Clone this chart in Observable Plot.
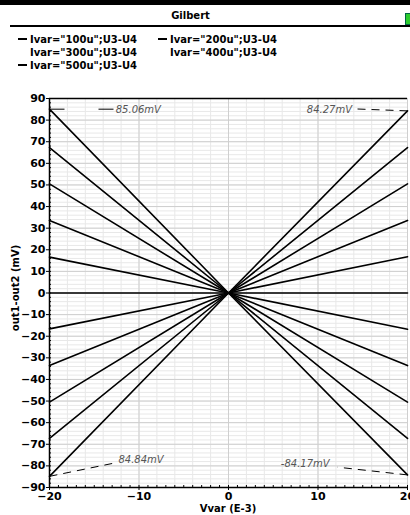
<!DOCTYPE html>
<html>
<head>
<meta charset="utf-8">
<script src="https://cdn.jsdelivr.net/npm/d3@7"></script>
<script src="https://cdn.jsdelivr.net/npm/@observablehq/plot@0.6"></script>
<style>
  html, body { margin: 0; padding: 0; background: white; }
  #page { position: relative; width: 410px; height: 515px; overflow: hidden; font-family: "DejaVu Sans", sans-serif; }
  .topbar { position: absolute; left: 0; top: 0; width: 410px; height: 5px; background: black; }
  .title { position: absolute; left: 0; width: 381px; top: 10px; text-align: center; font-size: 10px; font-weight: bold; }
  .titleline { position: absolute; left: 10px; top: 25px; width: 400px; height: 2px; background: black; }
  .green { position: absolute; left: 405px; top: 13px; width: 6px; height: 12px; background: #2ecc2e; border: 1px solid #064; box-sizing: border-box; }
  .leg { position: absolute; font-size: 10px; font-weight: bold; white-space: nowrap; line-height: 12px; }
  .dash { display: inline-block; width: 9px; height: 1.5px; background: black; vertical-align: middle; margin-right: 3px; position: relative; top: -1px; }
  .dash.hidden { background: transparent; }
  #chart { position: absolute; left: 0; top: 88px; }
</style>
</head>
<body>
<div id="page">
  <div class="topbar"></div>
  <div class="title" id="title"></div>
  <div class="titleline"></div>
  <div class="green"></div>
  <div id="legend"></div>
  <div id="chart"></div>
</div>
<script>
const titleText = "Gilbert";
const legendLabels = ['Ivar="100u";U3-U4', 'Ivar="200u";U3-U4', 'Ivar="300u";U3-U4', 'Ivar="400u";U3-U4', 'Ivar="500u";U3-U4'];
const legendDashVisible = [true, true, false, false, true];

const xValues = [-20, 0, 20];
const leftValues  = [85.06, 67.3, 50.5, 33.6, 16.6, 0, -16.6, -33.6, -50.5, -67.3, -84.84];
const centerValues = [0, 0, 0, 0, 0, 0, 0, 0, 0, 0, 0];
const rightValues = [-84.17, -67.3, -50.5, -33.6, -16.8, 0, 16.8, 33.6, 50.5, 67.3, 84.27];

const yTicks = d3.range(-90, 91, 10);
const xTicks = [-20, -10, 0, 10, 20];
const yMinor = d3.range(-90, 91, 2);
const xMinor = d3.range(-20, 21, 1);

// marker annotations: point, leader end, label position
const markerText = ["85.06mV", "84.27mV", "84.84mV", "-84.17mV"];
const markerPointX = [-20, 20, -20, 20];
const markerPointY = [85.06, 84.27, -84.84, -84.17];
const markerEndX = [-12.8, 14.0, -13.0, 12.2];
const markerEndY = [85.06, 85.2, -78.9, -80.6];
const markerLabelX = [-12.6, 13.8, -12.3, 11.3];
const markerLabelY = [84.6, 85.0, -77.2, -79.0];
const markerAnchor = ["start", "end", "start", "end"];
const markerDash = ["15,34", "8,6", "8,6", "8,6"];

document.getElementById("title").textContent = titleText;

// legend
const legPos = [[18, 34], [158, 34], [18, 47], [158, 47], [18, 60]];
const legend = document.getElementById("legend");
legendLabels.forEach((t, i) => {
  const d = document.createElement("div");
  d.className = "leg";
  d.style.left = legPos[i][0] + "px";
  d.style.top = legPos[i][1] + "px";
  const s = document.createElement("span");
  s.className = "dash" + (legendDashVisible[i] ? "" : " hidden");
  d.appendChild(s);
  d.appendChild(document.createTextNode(t));
  legend.appendChild(d);
});

const lineData = [];
leftValues.forEach((l, i) => {
  const ys = [l, centerValues[i], rightValues[i]];
  xValues.forEach((x, j) => lineData.push({series: i, x, y: ys[j]}));
});

const markerData = markerText.map((t, i) => ({
  text: t, px: markerPointX[i], py: markerPointY[i], ex: markerEndX[i], ey: markerEndY[i],
  lx: markerLabelX[i], ly: markerLabelY[i], anchor: markerAnchor[i], dash: markerDash[i], i
}));

const markerMarks = markerData.flatMap(d => [
  Plot.link([d], {x1: "px", y1: "py", x2: "ex", y2: "ey", stroke: "black", strokeWidth: 1, strokeDasharray: d.dash}),
  Plot.text([d], {x: "lx", y: "ly", text: "text", textAnchor: d.anchor, fill: "#555",
    fontStyle: "italic", fontWeight: "normal", fontSize: 10})
]);

const chart = Plot.plot({
  width: 410,
  height: 427,
  marginTop: 10,
  marginBottom: 28,
  marginLeft: 49,
  marginRight: 3,
  x: {domain: [-20, 20]},
  y: {domain: [-90, 90]},
  style: {fontFamily: "DejaVu Sans", fontSize: "11px", fontWeight: "bold", color: "black", background: "white", overflow: "visible"},
  marks: [
    Plot.gridX(d3.range(-20, 21, 2), {stroke: "#e8e8e8", strokeOpacity: 1}),
    Plot.gridY(yMinor, {stroke: "#e8e8e8", strokeOpacity: 1}),
    Plot.gridX(xTicks, {stroke: "#cfcfcf", strokeOpacity: 1}),
    Plot.gridY(yTicks, {stroke: "#cfcfcf", strokeOpacity: 1}),
    Plot.axisY(yTicks, {tickSize: 3, tickPadding: 1, label: null, fontWeight: "bold"}),
    Plot.axisY(yMinor, {tickSize: 2, text: null, label: null, dx: 2}),
    Plot.axisX(xTicks, {tickSize: 3, tickPadding: 2, label: null, fontWeight: "bold"}),
    Plot.axisX(xMinor, {tickSize: 2, text: null, label: null, dy: -2}),
    Plot.ruleY([90], {stroke: "black", strokeWidth: 1.5}),
    Plot.ruleY([-90], {stroke: "black", strokeWidth: 1.5}),
    Plot.ruleX([-20], {stroke: "black", strokeWidth: 1.5}),
    Plot.line(lineData, {x: "x", y: "y", z: "series", stroke: "black", strokeWidth: 1.6}),
    ...markerMarks
  ]
});

// axis titles added as real text in the svg
const svg = d3.select(chart);
svg.append("text")
  .attr("transform", "translate(19,200) rotate(-90)")
  .attr("text-anchor", "middle")
  .attr("font-size", 10).attr("font-weight", "bold")
  .text("out1-out2 (mV)");
svg.append("text")
  .attr("x", 228).attr("y", 424)
  .attr("text-anchor", "middle")
  .attr("font-size", 10).attr("font-weight", "bold")
  .text("Vvar (E-3)");

document.getElementById("chart").appendChild(chart);
</script>
</body>
</html>
